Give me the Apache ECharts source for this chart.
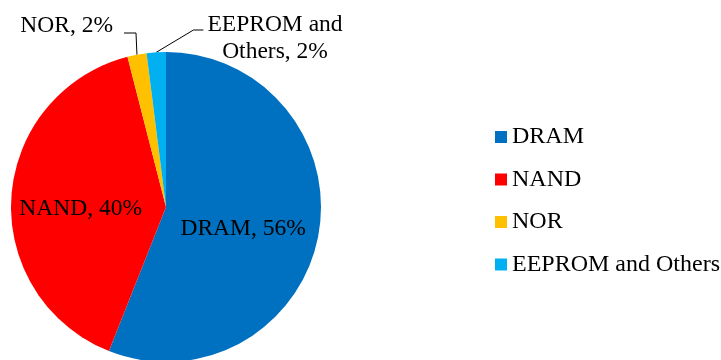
<!DOCTYPE html>
<html>
<head>
<meta charset="utf-8">
<script src="https://cdn.jsdelivr.net/npm/echarts@6/dist/echarts.min.js"></script>
<style>
  html, body { margin: 0; padding: 0; background: #ffffff; }
  #chart { width: 721px; height: 360px; }
</style>
</head>
<body>
<div id="chart"></div>
<script>
// Memory market share by type
const categories = ['DRAM', 'NAND', 'NOR', 'EEPROM and Others'];
const shares = [56, 40, 2, 2];
const colors = ['#0070C0', '#FF0000', '#FFC000', '#00B0F0'];

const FONT = 'Liberation Serif';
const chart = echarts.init(document.getElementById('chart'), null, { renderer: 'canvas' });

// big slices get their label inside, the slim ones outside with a leader line
const data = categories.map((name, i) => {
  const inside = shares[i] >= 10;
  return {
    name: name,
    value: shares[i],
    label: { position: inside ? 'inside' : 'outside' },
    labelLine: { show: !inside }
  };
});

const CX = 166, CY = 207, R = 155;

function placeLabel(params) {
  const i = params.dataIndex;
  const p = params.labelLinePoints;
  if (i === 0) return { dx: -2, dy: 7 };
  if (i === 1) return { dx: -5, dy: 7 };
  if (i === 2) {
    // NOR: text to the upper left, short leader going up then left
    const right = 113, midY = 26, lineY = 33;
    const start = p ? p[0] : [CX, CY - R];
    return {
      x: right, y: midY, align: 'right', verticalAlign: 'middle',
      labelLinePoints: [start, [right + 23, lineY], [right + 11, lineY]]
    };
  }
  // EEPROM and Others: two-line text to the upper right
  const midX = 275, midY = 38, lineY = 30;
  const left = midX - params.labelRect.width / 2;
  const start = p ? p[0] : [CX, CY - R];
  return {
    x: midX, y: midY, align: 'center', verticalAlign: 'middle',
    labelLinePoints: [start, [left - 14, lineY], [left - 4, lineY]]
  };
}

chart.setOption({
  animation: false,
  color: colors,
  legend: {
    orient: 'vertical',
    left: 495,
    top: 125,
    padding: 0,
    icon: 'rect',
    itemWidth: 12,
    itemHeight: 12,
    itemGap: 18.5,
    selectedMode: false,
    data: categories,
    textStyle: { fontFamily: FONT, fontSize: 24, color: '#000', lineHeight: 24 }
  },
  series: [{
    type: 'pie',
    center: [CX, CY],
    radius: R,
    startAngle: 90,
    clockwise: true,
    avoidLabelOverlap: false,
    silent: true,
    data: data,
    itemStyle: { borderWidth: 0 },
    label: {
      show: true,
      fontFamily: FONT,
      fontSize: 23.5,
      lineHeight: 27,
      color: '#000',
      align: 'center',
      formatter: (p) => p.name.replace(' and ', ' and\n') + ', ' + p.value + '%'
    },
    labelLine: {
      length: 12,
      length2: 12,
      lineStyle: { color: '#000', width: 1 }
    },
    labelLayout: placeLabel,
    emphasis: { disabled: true }
  }]
});
</script>
</body>
</html>
